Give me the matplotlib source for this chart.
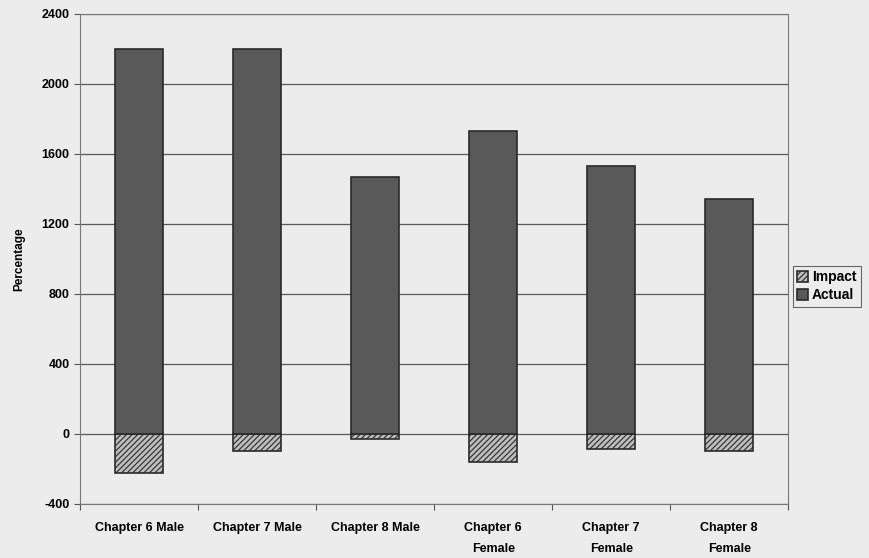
import matplotlib.pyplot as plt
import numpy as np

plt.rcParams['font.family'] = ['Liberation Sans', 'DejaVu Sans']
plt.rcParams['font.weight'] = 'bold'
plt.rcParams['axes.unicode_minus'] = False
plt.rcParams['hatch.color'] = '#3a3a3a'
plt.rcParams['hatch.linewidth'] = 0.8

# Data
categories = ['Chapter 6 Male', 'Chapter 7 Male', 'Chapter 8 Male',
              'Chapter 6\nFemale', 'Chapter 7\nFemale', 'Chapter 8\nFemale']
actual = [2200, 2200, 1470, 1730, 1530, 1340]
impact = [-225, -95, -30, -160, -86, -97]
y_ticks = [-400, 0, 400, 800, 1200, 1600, 2000, 2400]

fig = plt.figure(figsize=(8.7, 5.58), dpi=100)
fig.patch.set_facecolor('#ececec')
ax = fig.add_axes([0.092, 0.097, 0.814, 0.878])
ax.set_facecolor('#ececec')

x = np.arange(len(categories))
w = 0.41
ax.bar(x, impact, w, color='#bdbdbd', edgecolor='#2a2a2a', linewidth=1.2,
       hatch='//////', label='Impact', zorder=3)
ax.bar(x, actual, w, color='#595959', edgecolor='#2a2a2a', linewidth=1.2,
       label='Actual', zorder=3)

ax.set_xlim(-0.5, len(categories) - 0.5)
ax.set_ylim(-400, 2400)
ax.set_yticks(y_ticks)
ax.tick_params(axis='y', labelsize=9, length=4, width=0.8, color='#555555')
ax.yaxis.grid(True, color='#5a5a5a', linewidth=0.9, zorder=0)

ax.set_xticks(x)
ax.set_xticklabels(categories, fontsize=9, linespacing=2.0)
ax.set_xticks(np.arange(-0.5, len(categories)), minor=True)
ax.tick_params(axis='x', which='major', length=0, pad=13)
ax.tick_params(axis='x', which='minor', length=4, width=0.8, color='#555555')

for side in ['top', 'right', 'bottom', 'left']:
    ax.spines[side].set_color('#777777')
    ax.spines[side].set_linewidth(0.8)

ax.set_ylabel('Percentage', fontsize=8.5, fontweight='bold', labelpad=12)

handles, labels = ax.get_legend_handles_labels()
leg = fig.legend(handles, labels, loc='center left', bbox_to_anchor=(0.903, 0.487),
                 fontsize=10, frameon=True, fancybox=False, edgecolor='#444444',
                 handlelength=0.8, handleheight=0.8, handletextpad=0.3,
                 borderpad=0.3, labelspacing=0.3)
leg.get_frame().set_facecolor('#ececec')
leg.get_frame().set_linewidth(0.8)

fig.savefig('out.png', dpi=100, facecolor=fig.get_facecolor())
